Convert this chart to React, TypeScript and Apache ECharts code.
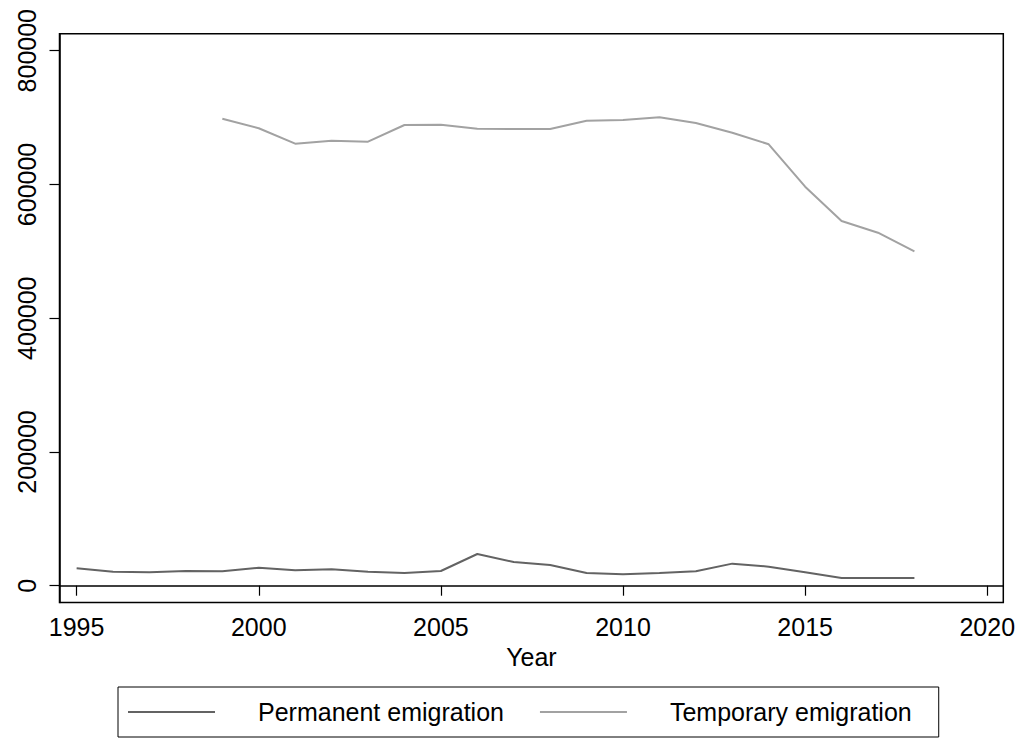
import React, { useEffect, useRef } from "react";
import * as echarts from "echarts";

const years = [1995, 1996, 1997, 1998, 1999, 2000, 2001, 2002, 2003, 2004, 2005, 2006, 2007, 2008, 2009, 2010, 2011, 2012, 2013, 2014, 2015, 2016, 2017, 2018];
const permanent = [26000, 20900, 20000, 22000, 21500, 27000, 23000, 24500, 21000, 19000, 22000, 47400, 35400, 31000, 19000, 17000, 19000, 21500, 33000, 28500, 20000, 11500, 11500, 11500];
const tempYears = [1999, 2000, 2001, 2002, 2003, 2004, 2005, 2006, 2007, 2008, 2009, 2010, 2011, 2012, 2013, 2014, 2015, 2016, 2017, 2018];
const temporary = [698300, 684000, 661000, 665400, 664000, 688900, 689300, 683400, 683000, 683000, 695300, 696400, 700400, 691900, 677400, 660000, 596600, 545300, 527800, 500000];
const xTicks = [1995, 2000, 2005, 2010, 2015, 2020];
const yTicks = [0, 200000, 400000, 600000, 800000];
const seriesNames = ["Permanent emigration", "Temporary emigration"];

const FONT = "'Liberation Sans', Arial, Helvetica, sans-serif";

export default function App() {
  const ref = useRef<HTMLDivElement>(null);
  useEffect(() => {
    if (!ref.current) return;
    const chart = echarts.init(ref.current, undefined, { renderer: "svg" });
    chart.setOption({
      animation: false,
      backgroundColor: "#ffffff",
      textStyle: { fontFamily: FONT },
      grid: {
        left: 59.5,
        top: 33.7,
        right: 27.7,
        bottom: 137.5,
        show: true,
        borderColor: "#000000",
        borderWidth: 1.5,
        containLabel: false,
      },
      xAxis: {
        type: "value",
        min: 1994.53,
        max: 2020.44,
        name: "Year",
        nameLocation: "middle",
        nameGap: 40,
        nameTextStyle: { fontSize: 25, color: "#000", fontFamily: FONT },
        axisLine: { show: true, lineStyle: { color: "#000", width: 1.5 } },
        axisTick: { show: true, length: 10, lineStyle: { color: "#000", width: 1.2 }, customValues: xTicks },
        axisLabel: { fontSize: 25, color: "#000", margin: 12, customValues: xTicks, formatter: (v: number) => String(v), fontFamily: FONT },
        splitLine: { show: false },
      },
      yAxis: {
        type: "value",
        min: -25100,
        max: 825400,
        axisLine: { show: true, lineStyle: { color: "#000", width: 1.5 } },
        axisTick: { show: true, length: 10, lineStyle: { color: "#000", width: 1.2 }, customValues: yTicks },
        axisLabel: { fontSize: 25, color: "#000", margin: 20, rotate: 90, customValues: yTicks, formatter: (v: number) => String(v), fontFamily: FONT },
        splitLine: { show: false },
      },
      legend: {
        left: 118,
        top: 687,
        padding: [10, 27, 10, 10],
        borderColor: "#000",
        borderWidth: 1,
        icon: "rect",
        itemWidth: 87,
        itemHeight: 2,
        itemGap: 36,
        textStyle: { fontSize: 25, color: "#000", lineHeight: 30, padding: [0, 0, 0, 38], fontFamily: FONT },
        data: seriesNames,
      },
      series: [
        {
          name: seriesNames[0],
          type: "line",
          symbol: "none",
          data: years.map((y, i) => [y, permanent[i]]),
          lineStyle: { color: "#636363", width: 2 },
          itemStyle: { color: "#636363" },
        },
        {
          name: seriesNames[1],
          type: "line",
          symbol: "none",
          data: tempYears.map((y, i) => [y, temporary[i]]),
          lineStyle: { color: "#a2a2a2", width: 2 },
          itemStyle: { color: "#a2a2a2" },
        },
      ],
    });
    return () => chart.dispose();
  }, []);
  return <div ref={ref} style={{ position: "fixed", left: 0, top: 0, width: 1031, height: 740 }} />;
}
